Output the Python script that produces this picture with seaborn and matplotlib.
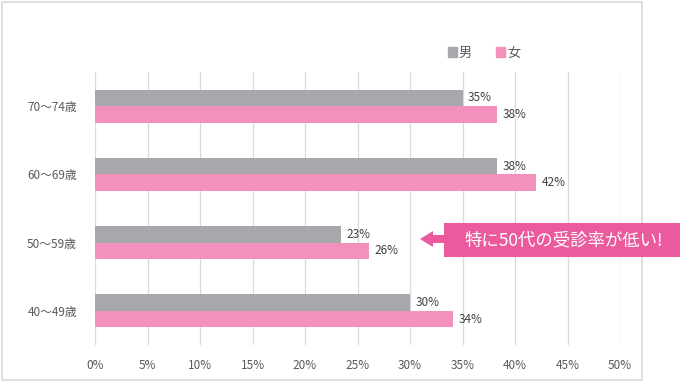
import pandas as pd
import matplotlib
matplotlib.use('Agg')
import matplotlib.pyplot as plt
import seaborn as sns
from matplotlib.patches import Rectangle, Polygon
from matplotlib.ticker import FuncFormatter

# data (受診率, %)
age_groups = ['70〜74歳', '60〜69歳', '50〜59歳', '40〜49歳']
male = [35.0, 38.3, 23.4, 30.0]
female = [38.3, 42.0, 26.1, 34.1]
sexes = ['男', '女']
x_ticks = [0, 5, 10, 15, 20, 25, 30, 35, 40, 45, 50]

colors = {'男': '#A7A8AB', '女': '#F391BC'}
text_color = '#595959'

df = pd.DataFrame({
    'age': age_groups * 2,
    'sex': ['男'] * len(age_groups) + ['女'] * len(age_groups),
    'rate': male + female,
})

sns.set_style('white')
plt.rcParams['font.family'] = ['Noto Sans CJK JP', 'DejaVu Sans']

fig = plt.figure(figsize=(6.84, 3.86), dpi=100)
ax = fig.add_axes([95 / 684, 1 - 345 / 386, 525 / 684, 273 / 386])

sns.barplot(data=df, y='age', x='rate', hue='sex', order=age_groups,
            hue_order=sexes, palette=colors, width=0.48, orient='h',
            saturation=1, legend=False, linewidth=0, ax=ax)

# value labels
for container in ax.containers:
    ax.bar_label(container, labels=[f'{v:.0f}%' for v in container.datavalues],
                 padding=4, fontsize=8.5, color='#404040')

ax.set_xlim(0, 50)
ax.set_xticks(x_ticks)
ax.xaxis.set_major_formatter(FuncFormatter(lambda v, p: f'{v:.0f}%'))
ax.grid(axis='x', color='#D9D9D9', linewidth=0.9)
ax.grid(axis='y', visible=False)
ax.set_axisbelow(True)
for s in ax.spines.values():
    s.set_visible(False)
ax.tick_params(axis='both', length=0, labelsize=8.5, colors=text_color)
ax.tick_params(axis='x', pad=10)
ax.tick_params(axis='y', pad=13)
ax.set_xlabel('')
ax.set_ylabel('')

# legend
handles = [Rectangle((0, 0), 1, 1, color=colors[s]) for s in sexes]
fig.legend(handles, sexes, loc='center', bbox_to_anchor=(484 / 684, 1 - 53 / 386),
           ncol=2, frameon=False, fontsize=9.5, handlelength=0.7, handleheight=0.7,
           handletextpad=0.15, columnspacing=1.8, labelcolor=text_color)

# chart border
fig.patches.append(Rectangle((2 / 684, 1 - 380 / 386), 640 / 684, 378 / 386,
                             transform=fig.transFigure, fill=False,
                             edgecolor='#D9D9D9', linewidth=1.2))

# callout arrow
W, H = 684, 386
pts = [(420, 239), (433, 231), (433, 235), (444, 235), (444, 223), (680, 223),
       (680, 257), (444, 257), (444, 243), (433, 243), (433, 247)]
fig.patches.append(Polygon([(x / W, 1 - y / H) for x, y in pts], closed=True,
                           transform=fig.transFigure, facecolor='#EA5A9C',
                           edgecolor='none', zorder=5))
fig.text(564 / W, 1 - 240 / H, '特に50代の受診率が低い!', color='white',
         fontsize=12.5, ha='center', va='center', zorder=6)

fig.savefig('out.png', dpi=100)
